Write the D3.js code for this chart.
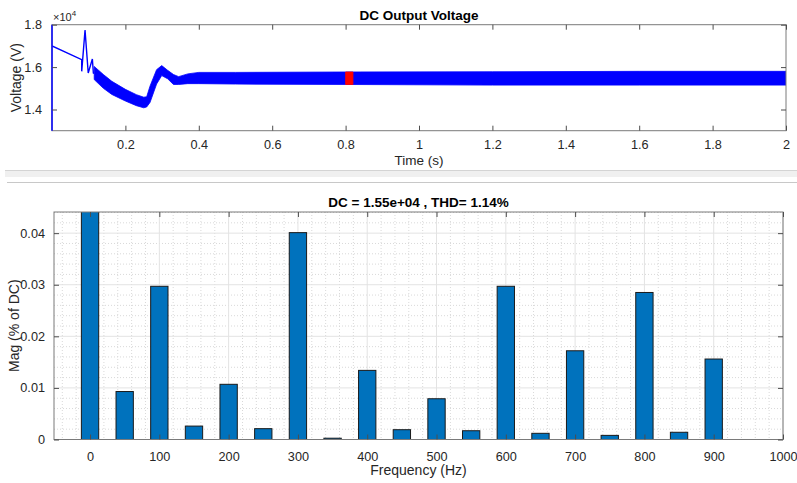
<!DOCTYPE html>
<html lang="en">
<head>
    <meta charset="UTF-8">
    <title>DC Output Voltage</title>
    <script src="https://d3js.org/d3.v7.min.js"></script>
    <style>
        body { margin: 0; background: #fff; }
        svg { display: block; font-family: "Liberation Sans", Arial, sans-serif; }
        .axis path { display: none; }
        .axis text { font-size: 12.7px; fill: #262626; }
    </style>
</head>
<body>
<script type="text/javascript">
    // start-up transient (Volts)
    var transientT = [0, 0.081, 0.081, 0.090, 0.0987, 0.110, 0.1127, 0.115];
    var transientV = [17000, 16350, 15800, 17750, 15720, 16380, 15720, 15700];

    // envelope of the ripple band (Volts)
    var envT =     [0.115, 0.14, 0.163, 0.2, 0.23, 0.25, 0.258, 0.267, 0.285, 0.299, 0.315, 0.331, 0.345, 0.37, 0.4, 0.5, 0.8, 1.2, 1.6, 2.0];
    var envUpper = [16030, 15650, 15330, 14950, 14700, 14580, 14600, 15100, 15880, 16070, 15850, 15650, 15550, 15680, 15750, 15750, 15770, 15780, 15800, 15800];
    var envLower = [15410, 15000, 14710, 14400, 14180, 14080, 14120, 14330, 15200, 15600, 15450, 15180, 15180, 15220, 15220, 15200, 15180, 15150, 15150, 15150];

    // FFT window (one cycle) highlighted in red
    var windowT = [0.8, 0.82];
    var windowUpper = [15770, 15770];
    var windowLower = [15180, 15180];

    var timeTicks = [0.2, 0.4, 0.6, 0.8, 1, 1.2, 1.4, 1.6, 1.8, 2];
    var voltTicks = [14000, 16000, 18000];

    // harmonic spectrum
    var harmonicFreq = [0, 50, 100, 150, 200, 250, 300, 350, 400, 450, 500, 550, 600, 650, 700, 750, 800, 850, 900];
    var harmonicMag = [100, 0.0093, 0.0297, 0.0026, 0.0107, 0.0021, 0.0401, 0.00025, 0.0134, 0.0019, 0.0079, 0.0017, 0.0297, 0.0012, 0.0172, 0.0008, 0.0285, 0.0014, 0.0156];
    var freqTicks = [0, 100, 200, 300, 400, 500, 600, 700, 800, 900, 1000];
    var magTicks = [0, 0.01, 0.02, 0.03, 0.04];

    var svgWidth = 797;
    var svgHeight = 483;
    var frameColor = "#7a7a7a";

    var svg = d3.select("body").append("svg")
        .attr("width", svgWidth)
        .attr("height", svgHeight);

    // ---------- top panel ----------
    var upper = { left: 52, right: 786, top: 24.7, bottom: 130.7 };
    var xTime = d3.scaleLinear().domain([0, 2]).range([upper.left, upper.right]);
    var yVolt = d3.scaleLinear().domain([13000, 18000]).range([upper.bottom, upper.top]);

    svg.append("clipPath")
        .attr("id", "top-area")
        .append("rect")
        .attr("x", upper.left)
        .attr("y", upper.top)
        .attr("width", upper.right - upper.left)
        .attr("height", upper.bottom - upper.top);

    var topPlot = svg.append("g").attr("clip-path", "url(#top-area)");

    var band = d3.area()
        .x(function (d) { return xTime(d[0]); })
        .y0(function (d) { return yVolt(d[2]); })
        .y1(function (d) { return yVolt(d[1]); });

    var envData = envT.map(function (t, i) { return [t, envUpper[i], envLower[i]]; });
    topPlot.append("path")
        .datum(envData)
        .attr("d", band)
        .attr("fill", "#0000ff")
        .attr("stroke", "#0000ff")
        .attr("stroke-width", 0.8);

    topPlot.append("path")
        .datum(transientT.map(function (t, i) { return [t, transientV[i]]; }))
        .attr("d", d3.line()
            .x(function (d) { return xTime(d[0]); })
            .y(function (d) { return yVolt(d[1]); }))
        .attr("fill", "none")
        .attr("stroke", "#0000ff")
        .attr("stroke-width", 1.4);

    topPlot.append("path")
        .datum(windowT.map(function (t, i) { return [t, windowUpper[i], windowLower[i]]; }))
        .attr("d", band)
        .attr("fill", "#ff0000")
        .attr("stroke", "#ff0000")
        .attr("stroke-width", 0.8);

    // frame
    svg.append("rect")
        .attr("x", upper.left)
        .attr("y", upper.top)
        .attr("width", upper.right - upper.left)
        .attr("height", upper.bottom - upper.top)
        .attr("fill", "none")
        .attr("stroke", frameColor)
        .attr("stroke-width", 1);
    svg.append("line") // trace sits on the left edge
        .attr("x1", upper.left).attr("x2", upper.left)
        .attr("y1", upper.top).attr("y2", upper.bottom)
        .attr("stroke", "#0000ff")
        .attr("stroke-width", 1.5);

    var tickLen = 5;
    svg.append("g")
        .attr("class", "x axis")
        .attr("transform", "translate(0," + upper.bottom + ")")
        .call(d3.axisBottom(xTime).tickValues(timeTicks).tickSizeInner(-tickLen).tickSizeOuter(0).tickPadding(9.5).tickFormat(d3.format("~g")));
    svg.append("g")
        .attr("class", "x axis")
        .attr("transform", "translate(0," + upper.top + ")")
        .call(d3.axisTop(xTime).tickValues(timeTicks).tickSizeInner(-tickLen).tickSizeOuter(0).tickFormat(""));
    svg.append("g")
        .attr("class", "y axis")
        .attr("transform", "translate(" + upper.left + ",0)")
        .call(d3.axisLeft(yVolt).tickValues(voltTicks).tickSizeInner(-tickLen).tickSizeOuter(0).tickPadding(10)
            .tickFormat(function (d) { return d3.format(".1f")(d / 1e4); }));
    svg.append("g")
        .attr("class", "y axis")
        .attr("transform", "translate(" + upper.right + ",0)")
        .call(d3.axisRight(yVolt).tickValues(voltTicks).tickSizeInner(-tickLen).tickSizeOuter(0).tickFormat(""));

    var exp = svg.append("text")
        .attr("x", 53)
        .attr("y", 21)
        .attr("font-size", "11px")
        .attr("fill", "#262626");
    exp.append("tspan").text("\u00d710");
    exp.append("tspan").attr("dy", -5).attr("font-size", "8px").text("4");

    svg.append("text")
        .attr("x", (upper.left + upper.right) / 2)
        .attr("y", 19.5)
        .attr("text-anchor", "middle")
        .attr("font-size", "13.5px")
        .attr("font-weight", "bold")
        .attr("fill", "#000")
        .text("DC Output Voltage");
    svg.append("text")
        .attr("x", (upper.left + upper.right) / 2)
        .attr("y", 165)
        .attr("text-anchor", "middle")
        .attr("font-size", "13.5px")
        .attr("fill", "#262626")
        .text("Time (s)");
    svg.append("text")
        .attr("transform", "translate(21," + (upper.top + upper.bottom) / 2 + ") rotate(-90)")
        .attr("text-anchor", "middle")
        .attr("font-size", "14px")
        .attr("fill", "#262626")
        .text("Voltage (V)");

    // ---------- separator ----------
    svg.append("rect")
        .attr("x", 5).attr("y", 170)
        .attr("width", svgWidth - 5).attr("height", 7)
        .attr("fill", "#f0f0f0");
    svg.append("line")
        .attr("x1", 5).attr("x2", svgWidth)
        .attr("y1", 170.5).attr("y2", 170.5)
        .attr("stroke", "#d4d4d4");
    svg.append("line")
        .attr("x1", 7).attr("x2", svgWidth)
        .attr("y1", 182.5).attr("y2", 182.5)
        .attr("stroke", "#c8c8c8");

    // ---------- bottom panel ----------
    var lower = { left: 54, right: 783, top: 212, bottom: 439.5 };
    var xFreq = d3.scaleLinear().domain([-52, 1000]).range([lower.left, lower.right]);
    var yMag = d3.scaleLinear().domain([0, 0.0441]).range([lower.bottom, lower.top]);

    svg.append("clipPath")
        .attr("id", "bot-area")
        .append("rect")
        .attr("x", lower.left)
        .attr("y", lower.top)
        .attr("width", lower.right - lower.left)
        .attr("height", lower.bottom - lower.top);

    var grid = svg.append("g");
    // minor grid
    grid.selectAll(".xminor")
        .data(d3.range(-40, 1001, 20).filter(function (d) { return d % 100 !== 0; }))
        .enter().append("line")
        .attr("x1", function (d) { return xFreq(d); })
        .attr("x2", function (d) { return xFreq(d); })
        .attr("y1", lower.top).attr("y2", lower.bottom)
        .attr("stroke", "#d9d9d9")
        .attr("stroke-dasharray", "1,2");
    grid.selectAll(".yminor")
        .data(d3.range(0.002, 0.0441, 0.002).filter(function (d) { return Math.abs(d * 100 - Math.round(d * 100)) > 1e-6; }))
        .enter().append("line")
        .attr("x1", lower.left).attr("x2", lower.right)
        .attr("y1", function (d) { return yMag(d); })
        .attr("y2", function (d) { return yMag(d); })
        .attr("stroke", "#d9d9d9")
        .attr("stroke-dasharray", "1,2");
    // major grid
    grid.selectAll(".xmajor")
        .data(freqTicks)
        .enter().append("line")
        .attr("x1", function (d) { return xFreq(d); })
        .attr("x2", function (d) { return xFreq(d); })
        .attr("y1", lower.top).attr("y2", lower.bottom)
        .attr("stroke", "#e3e3e3");
    grid.selectAll(".ymajor")
        .data(magTicks)
        .enter().append("line")
        .attr("x1", lower.left).attr("x2", lower.right)
        .attr("y1", function (d) { return yMag(d); })
        .attr("y2", function (d) { return yMag(d); })
        .attr("stroke", "#e3e3e3");

    var barWidth = 25;
    svg.append("g")
        .attr("clip-path", "url(#bot-area)")
        .selectAll("rect")
        .data(harmonicFreq)
        .enter()
        .append("rect")
        .attr("x", function (d) { return xFreq(d - barWidth / 2); })
        .attr("y", function (d, i) { return yMag(Math.min(harmonicMag[i], 0.05)); })
        .attr("width", xFreq(barWidth) - xFreq(0))
        .attr("height", function (d, i) { return yMag(0) - yMag(Math.min(harmonicMag[i], 0.05)); })
        .attr("fill", "#0072bd")
        .attr("stroke", "#1a1a1a")
        .attr("stroke-width", 1);

    svg.append("rect")
        .attr("x", lower.left)
        .attr("y", lower.top)
        .attr("width", lower.right - lower.left)
        .attr("height", lower.bottom - lower.top)
        .attr("fill", "none")
        .attr("stroke", frameColor)
        .attr("stroke-width", 1);

    svg.append("g")
        .attr("class", "x axis")
        .attr("transform", "translate(0," + lower.bottom + ")")
        .call(d3.axisBottom(xFreq).tickValues(freqTicks).tickSizeInner(-tickLen).tickSizeOuter(0).tickPadding(12).tickFormat(d3.format("d")));
    svg.append("g")
        .attr("class", "x axis")
        .attr("transform", "translate(0," + lower.top + ")")
        .call(d3.axisTop(xFreq).tickValues(freqTicks).tickSizeInner(-tickLen).tickSizeOuter(0).tickFormat(""));
    svg.append("g")
        .attr("class", "y axis")
        .attr("transform", "translate(" + lower.left + ",0)")
        .call(d3.axisLeft(yMag).tickValues(magTicks).tickSizeInner(-tickLen).tickSizeOuter(0).tickPadding(9).tickFormat(d3.format("~g")));
    svg.append("g")
        .attr("class", "y axis")
        .attr("transform", "translate(" + lower.right + ",0)")
        .call(d3.axisRight(yMag).tickValues(magTicks).tickSizeInner(-tickLen).tickSizeOuter(0).tickFormat(""));

    svg.selectAll(".axis .tick line").attr("stroke", "#4d4d4d");

    svg.append("text")
        .attr("x", (lower.left + lower.right) / 2)
        .attr("y", 207)
        .attr("text-anchor", "middle")
        .attr("font-size", "13.5px")
        .attr("font-weight", "bold")
        .attr("fill", "#000")
        .text("DC = 1.55e+04 , THD= 1.14%");
    svg.append("text")
        .attr("x", (lower.left + lower.right) / 2)
        .attr("y", 475)
        .attr("text-anchor", "middle")
        .attr("font-size", "14px")
        .attr("fill", "#262626")
        .text("Frequency (Hz)");
    svg.append("text")
        .attr("transform", "translate(19," + (lower.top + lower.bottom) / 2 + ") rotate(-90)")
        .attr("text-anchor", "middle")
        .attr("font-size", "14px")
        .attr("fill", "#262626")
        .text("Mag (% of DC)");
</script>
</body>
</html>
